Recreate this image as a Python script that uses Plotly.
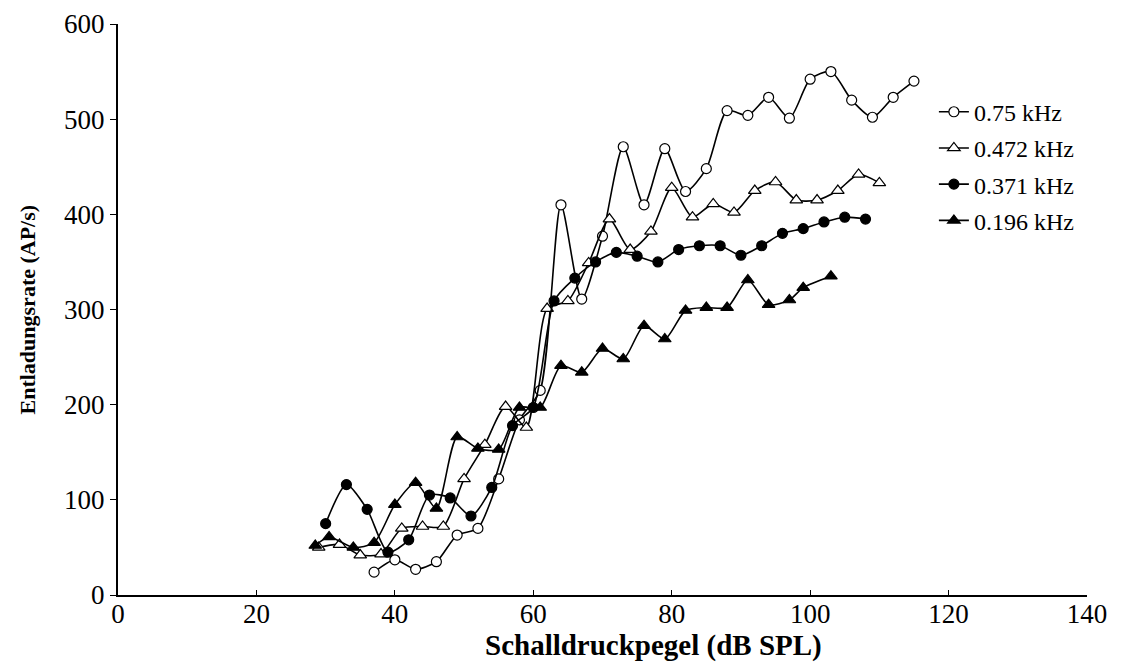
"""Entladungsrate vs. Schalldruckpegel fuer vier Frequenzen."""

import plotly.graph_objects as go

# 0.75 kHz (offene Kreise)
x_075 = [37, 40, 43, 46, 49, 52, 55, 58, 61, 64, 67, 70, 73, 76, 79, 82, 85,
         88, 91, 94, 97, 100, 103, 106, 109, 112, 115]
y_075 = [24, 37, 27, 35, 63, 70, 122, 184, 215, 410, 311, 377, 471, 410, 469,
         424, 448, 509, 504, 523, 501, 542, 550, 520, 502, 523, 540]

# 0.472 kHz (offene Dreiecke)
x_0472 = [29, 32, 35, 38, 41, 44, 47, 50, 53, 56, 59, 62, 65, 68, 71, 74, 77,
          80, 83, 86, 89, 92, 95, 98, 101, 104, 107, 110]
y_0472 = [50, 53, 42, 43, 70, 72, 72, 122, 158, 198, 176, 301, 309, 349, 395,
          363, 382, 428, 397, 411, 402, 425, 434, 415, 415, 425, 442, 433]

# 0.371 kHz (gefuellte Kreise)
x_0371 = [30, 33, 36, 39, 42, 45, 48, 51, 54, 57, 60, 63, 66, 69, 72, 75, 78,
          81, 84, 87, 90, 93, 96, 99, 102, 105, 108]
y_0371 = [75, 116, 90, 45, 58, 105, 102, 83, 113, 178, 197, 309, 333, 350, 360,
          356, 350, 363, 367, 367, 357, 367, 380, 385, 392, 397, 395]

# 0.196 kHz (gefuellte Dreiecke)
x_0196 = [28.5, 30.5, 34, 37, 40, 43, 46, 49, 52, 55, 58, 61, 64, 67, 70, 73,
          76, 79, 82, 85, 88, 91, 94, 97, 99, 103]
y_0196 = [52, 61, 50, 55, 95, 118, 91, 166, 154, 153, 197, 197, 241, 234, 259,
          248, 283, 269, 299, 302, 302, 331, 305, 310, 323, 335]

SERIES = [
    ("0.75 kHz", x_075, y_075, "circle", "white", 10),
    ("0.472 kHz", x_0472, y_0472, "triangle-up", "white", 11),
    ("0.371 kHz", x_0371, y_0371, "circle", "black", 10),
    ("0.196 kHz", x_0196, y_0196, "triangle-up", "black", 11),
]

FONT = "Liberation Serif, Times New Roman, serif"

fig = go.Figure()
for i, (name, xs, ys, sym, fill, size) in enumerate(SERIES):
    fig.add_trace(
        go.Scatter(
            x=xs,
            y=ys,
            name=name,
            mode="lines+markers",
            line=dict(color="black", width=1.6, shape="spline", smoothing=0.7),
            marker=dict(
                symbol=sym,
                size=size,
                color=fill,
                line=dict(color="black", width=1.2),
            ),
            legendgroup=f"g{i}",
        )
    )

fig.update_xaxes(
    range=[0, 140],
    tickvals=[0, 20, 40, 60, 80, 100, 120, 140],
    ticks="inside",
    ticklen=5,
    tickcolor="black",
    showline=True,
    linecolor="black",
    linewidth=2,
    showgrid=False,
    zeroline=False,
    automargin=False,
    ticklabelstandoff=-6,
    ticklabeloverflow="allow",
    tickfont=dict(family=FONT, size=27, color="black"),
)
fig.update_yaxes(
    range=[0, 600],
    tickvals=[0, 100, 200, 300, 400, 500, 600],
    ticks="outside",
    ticklen=6,
    tickcolor="black",
    showline=True,
    linecolor="black",
    linewidth=2,
    showgrid=False,
    zeroline=False,
    automargin=False,
    ticklabeloverflow="allow",
    tickfont=dict(family=FONT, size=27, color="black"),
)

# axis titles as annotations so they sit exactly where the original has them
fig.add_annotation(
    text="<b>Schalldruckpegel (dB SPL)</b>",
    xref="paper", yref="paper", x=0.553, y=0,
    xanchor="center", yanchor="middle", yshift=-50,
    showarrow=False,
    font=dict(family=FONT, size=29, color="black"),
)
fig.add_annotation(
    text="<b>Entladungsrate (AP/s)</b>",
    xref="paper", yref="paper", x=0, y=0.5,
    xanchor="center", yanchor="middle", xshift=-91, textangle=-90,
    showarrow=False,
    font=dict(family=FONT, size=22, color="black"),
)

fig.update_layout(
    width=1125,
    height=664,
    paper_bgcolor="white",
    plot_bgcolor="white",
    # the page adds an 8 px body margin, so shift the plot area to compensate
    margin=dict(l=110, r=46, t=16, b=77),
    legend=dict(
        x=0.842,
        y=0.885,
        xanchor="left",
        yanchor="top",
        font=dict(family=FONT, size=24, color="black"),
        tracegroupgap=2,
        traceorder="grouped",
        bgcolor="rgba(0,0,0,0)",
    ),
)

fig.write_html("out.html")
